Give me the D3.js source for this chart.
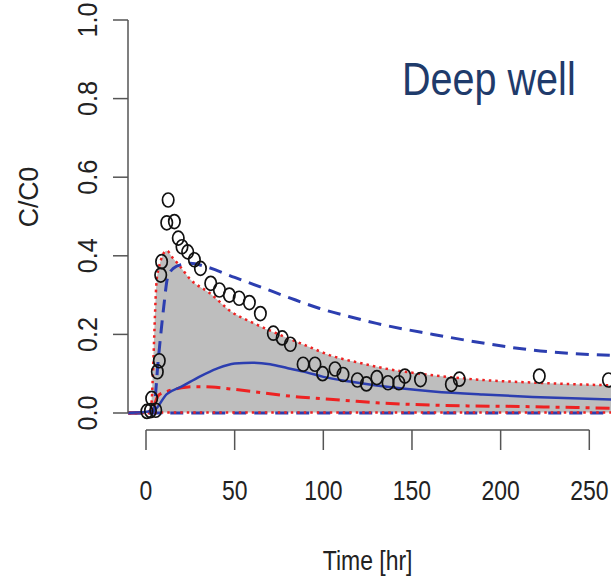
<!DOCTYPE html>
<html>
<head>
<meta charset="utf-8">
<script src="https://cdn.jsdelivr.net/npm/d3@7/dist/d3.min.js"></script>
<style>
  body { margin: 0; background: #fff; }
  svg { display: block; font-family: "Liberation Sans", Arial, Helvetica, sans-serif; }
</style>
</head>
<body>
<div id="chart"></div>
<script>
// tick labels
var timeTicks = [0, 50, 100, 150, 200, 250];
var concTicks = [0, 0.2, 0.4, 0.6, 0.8, 1.0];

// observed C/C0 (circles)
var obsTime = [0.5, 2.5, 5.5, 3.2, 6.4, 7.5, 8.3, 8.8, 11.7, 12.5, 16, 18.2, 20.3, 23.5, 27.3, 30.7,
	36.5, 41.4, 47, 52.5, 58.3, 64.5, 71.8, 76.8, 81.4, 88.6, 95.3, 99.6, 106.6, 111.1, 119.2,
	124.3, 130.2, 136.5, 142.6, 146, 154.8, 172.2, 176.7, 221.8, 260.8];
var obsConc = [0.004, 0.006, 0.007, 0.037, 0.105, 0.133, 0.351, 0.385, 0.484, 0.542, 0.487, 0.445, 0.423, 0.41, 0.39, 0.368,
	0.33, 0.313, 0.3, 0.292, 0.281, 0.253, 0.203, 0.191, 0.175, 0.124, 0.124, 0.1, 0.112, 0.098, 0.084,
	0.074, 0.09, 0.077, 0.077, 0.094, 0.085, 0.073, 0.086, 0.094, 0.084];

// envelope (grey band, red dotted edges)
var bandTime = [-10, 2.5, 6.3, 11.7, 15, 18, 25, 36, 48, 60, 75, 90, 105, 120, 135, 160, 190, 220, 265];
var bandHigh = [0, 0, 0.35, 0.413, 0.395, 0.38, 0.34, 0.305, 0.258, 0.23, 0.2, 0.172, 0.145, 0.128, 0.113, 0.097, 0.084, 0.077, 0.07];
var bandLow  = [0, 0, 0.001, 0.001, 0.001, 0.001, 0.001, 0.001, 0.001, 0.001, 0.001, 0.001, 0.001, 0.001, 0.001, 0.001, 0.001, 0.001, 0.001];

// blue dashed upper
var upperTime = [-10, 4, 7, 10, 12.2, 15.4, 20, 25, 34, 50, 65, 81, 98, 115, 130, 162, 190, 218, 265];
var upperConc = [0, 0, 0.14, 0.27, 0.345, 0.368, 0.378, 0.381, 0.372, 0.345, 0.32, 0.293, 0.266, 0.245, 0.228, 0.2, 0.178, 0.16, 0.146];

// blue solid (median)
var midTime = [-10, 4, 11.7, 20, 30, 40, 50, 60, 70, 80, 90, 100, 115, 130, 162, 190, 218, 265];
var midConc = [0, 0.005, 0.048, 0.067, 0.092, 0.113, 0.126, 0.128, 0.124, 0.114, 0.104, 0.092, 0.08, 0.07, 0.055, 0.047, 0.041, 0.034];

// red dash-dot
var redTime = [-10, 3, 7, 12, 20, 28, 37, 50, 65, 81, 98, 115, 130, 162, 218, 265];
var redConc = [0, 0.005, 0.045, 0.055, 0.064, 0.067, 0.066, 0.06, 0.052, 0.043, 0.037, 0.031, 0.026, 0.02, 0.016, 0.012];

// blue dashed lower
var lowerTime = [-10, 265];
var lowerConc = [0.0, 0.0];

var width = 611, height = 579;
var blue = "#2c3eb0", red = "#ee2222";

var x = d3.scaleLinear().domain([0, 250]).range([146, 589.3]);
var y = d3.scaleLinear().domain([0, 1]).range([413, 20]);

var svg = d3.select("#chart").append("svg")
	.attr("width", width).attr("height", height);

svg.append("rect").attr("width", width).attr("height", height).attr("fill", "#fff");

function pairs(ts, cs) { return ts.map(function(t, i){ return [t, cs[i]]; }); }

var line = d3.line()
	.x(function(d){ return x(d[0]); })
	.y(function(d){ return y(d[1]); })
	.curve(d3.curveMonotoneX);

// grey band
var area = d3.area()
	.x(function(d){ return x(d.t); })
	.y0(function(d){ return y(d.lo); })
	.y1(function(d){ return y(d.hi); })
	.curve(d3.curveMonotoneX);

var band = bandTime.map(function(t, i){ return {t: t, hi: bandHigh[i], lo: bandLow[i]}; });

svg.append("path")
	.datum(band)
	.attr("fill", "#bebebe")
	.attr("d", area);

svg.append("path")
	.datum(pairs(lowerTime, lowerConc))
	.attr("fill", "none")
	.attr("stroke", blue)
	.attr("stroke-width", 3)
	.attr("stroke-dasharray", "13,8")
	.attr("d", line);

[bandHigh, bandLow].forEach(function(vals){
	svg.append("path")
		.datum(pairs(bandTime, vals))
		.attr("fill", "none")
		.attr("stroke", red)
		.attr("stroke-width", 2.5)
		.attr("stroke-dasharray", "2.5,4")
		.attr("d", line);
});

svg.append("path")
	.datum(pairs(upperTime, upperConc))
	.attr("fill", "none")
	.attr("stroke", blue)
	.attr("stroke-width", 3)
	.attr("stroke-dasharray", "13,8")
	.attr("d", line);

svg.append("path")
	.datum(pairs(redTime, redConc))
	.attr("fill", "none")
	.attr("stroke", red)
	.attr("stroke-width", 3)
	.attr("stroke-dasharray", "14,6,4,6")
	.attr("d", line);

svg.append("path")
	.datum(pairs(midTime, midConc))
	.attr("fill", "none")
	.attr("stroke", blue)
	.attr("stroke-width", 2.5)
	.attr("d", line);

// observations
svg.append("g").selectAll("ellipse")
	.data(pairs(obsTime, obsConc))
	.enter().append("ellipse")
	.attr("cx", function(d){ return x(d[0]); })
	.attr("cy", function(d){ return y(d[1]); })
	.attr("rx", 5.7)
	.attr("ry", 7)
	.attr("fill", "none")
	.attr("stroke", "#111")
	.attr("stroke-width", 1.7);

// axes (R style, detached)
var axisCol = "#555";
var yAxis = svg.append("g").attr("transform", "translate(128,0)");
yAxis.append("line")
	.attr("x1", 0).attr("x2", 0)
	.attr("y1", y(concTicks[0])).attr("y2", y(concTicks[concTicks.length - 1]))
	.attr("stroke", axisCol).attr("stroke-width", 1.5);
yAxis.selectAll("line.tick").data(concTicks).enter().append("line")
	.attr("class", "tick")
	.attr("x1", -15).attr("x2", 0)
	.attr("y1", function(d){ return y(d); }).attr("y2", function(d){ return y(d); })
	.attr("stroke", axisCol).attr("stroke-width", 1.5);

svg.selectAll("text.ytick").data(concTicks).enter().append("text")
	.attr("class", "ytick")
	.attr("transform", function(d){ return "translate(97," + y(d) + ") scale(1,0.9) rotate(-90)"; })
	.attr("text-anchor", "middle")
	.attr("font-size", 28)
	.attr("fill", "#222")
	.text(function(d){ return d.toFixed(1); });

var xAxis = svg.append("g").attr("transform", "translate(0,430)");
xAxis.append("line")
	.attr("x1", x(timeTicks[0])).attr("x2", x(timeTicks[timeTicks.length - 1]))
	.attr("y1", 0).attr("y2", 0)
	.attr("stroke", axisCol).attr("stroke-width", 1.5);
xAxis.selectAll("line.tick").data(timeTicks).enter().append("line")
	.attr("class", "tick")
	.attr("x1", function(d){ return x(d); }).attr("x2", function(d){ return x(d); })
	.attr("y1", 0).attr("y2", 20)
	.attr("stroke", axisCol).attr("stroke-width", 1.5);

svg.selectAll("text.xtick").data(timeTicks).enter().append("text")
	.attr("class", "xtick")
	.attr("transform", function(d){ return "translate(" + x(d) + ",500) scale(0.82,1)"; })
	.attr("text-anchor", "middle")
	.attr("font-size", 28)
	.attr("fill", "#222")
	.text(function(d){ return d; });

// axis titles
svg.append("text")
	.attr("transform", "translate(" + x(125) + ",570) scale(0.82,1)")
	.attr("text-anchor", "middle")
	.attr("font-size", 28)
	.attr("fill", "#222")
	.text("Time [hr]");

svg.append("text")
	.attr("transform", "translate(38,197) scale(1,0.95) rotate(-90)")
	.attr("text-anchor", "middle")
	.attr("font-size", 28)
	.attr("fill", "#222")
	.text("C/C0");

svg.append("text")
	.attr("transform", "translate(402,95) scale(0.86,1)")
	.attr("font-size", 46)
	.attr("fill", "#1f3b6b")
	.text("Deep well");
</script>
</body>
</html>
